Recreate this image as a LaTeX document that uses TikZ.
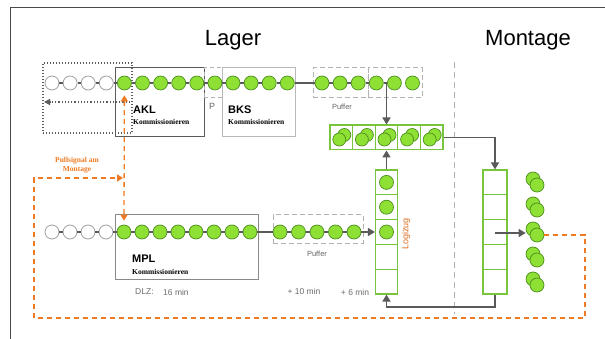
\documentclass[tikz,border=0pt]{standalone}
\usepackage{fontspec}
\setmainfont{Liberation Sans}
\newfontfamily\kommfont{Liberation Serif}
\usetikzlibrary{arrows.meta,calc}
\definecolor{limefill}{HTML}{8EE034}
\definecolor{circedge}{HTML}{4C8F1E}
\definecolor{cellgreen}{HTML}{78C43C}
\definecolor{linegray}{HTML}{5A5A5A}
\definecolor{boxgray}{HTML}{8A8A8A}
\definecolor{pullorange}{HTML}{F07A22}
\definecolor{framegray}{HTML}{4A4A4A}
\begin{document}
\begin{tikzpicture}[x=1pt,y=-1pt,
  gc/.style={circle, draw=circedge, fill=limefill, line width=0.7pt, minimum size=14pt, inner sep=0pt},
  wc/.style={circle, draw=gray!75, fill=white, line width=0.8pt, minimum size=14pt, inner sep=0pt},
  conn/.style={draw=linegray, line width=1.6pt},
  arr/.style={conn, -{Triangle[length=7pt,width=8pt]}},
  cellbox/.style={rectangle, draw=cellgreen, line width=1.2pt, minimum width=22.6pt, minimum height=24.8pt, inner sep=0pt},
  pull/.style={draw=pullorange, line width=1.3pt, dash pattern=on 5pt off 4pt},
  pulltip/.style={-{Triangle[length=6pt,width=7pt]}},
  procbox/.style={rectangle, draw, line width=1pt, inner sep=0pt},
  pufbox/.style={rectangle, draw=gray!60, line width=1pt, dash pattern=on 5pt off 3pt, inner sep=0pt},
  title/.style={font=\fontsize{22}{24}\selectfont, inner sep=0pt},
  boxname/.style={font=\bfseries\fontsize{11}{12}\selectfont, anchor=west, inner sep=0pt},
  komm/.style={font=\kommfont\bfseries\fontsize{7.5}{8}\selectfont, anchor=west, inner sep=0pt},
  small/.style={font=\fontsize{8.5}{10}\selectfont, text=gray!85!black, inner sep=0pt},
  puflabel/.style={font=\fontsize{7.5}{9}\selectfont, text=gray!80!black, inner sep=0pt}
]
\useasboundingbox (0,0) rectangle (605,339);
\fill[white] (0,0) rectangle (605,339);
% slide frame
\draw[framegray, line width=1pt] (10,339) -- (10,8) -- (605,8);

% titles
\node[title] (lager) at (233,40) {Lager};
\node[title] (montage) at (528,40) {Montage};

% divider
\draw[gray!60, line width=1pt, dash pattern=on 6pt off 4pt] (454,62) -- (454,314);

% process boxes
\node[procbox, draw=framegray!90, dotted, line width=1.2pt, minimum width=89pt, minimum height=70pt] (retbox) at (87.5,98) {};
\node[procbox, draw=linegray, minimum width=89pt, minimum height=69pt] (akl) at (159.5,102.5) {};
\node[procbox, draw=gray!60, line width=1pt, dash pattern=on 4pt off 3pt, minimum width=18pt, minimum height=30pt] (pbox) at (213,83) {};
\node[procbox, draw=gray!55, minimum width=73pt, minimum height=69pt] (bks) at (258.5,102.5) {};
\node[procbox, draw=boxgray, minimum width=143pt, minimum height=64pt] (mpl) at (186.5,247) {};
\node[pufbox, minimum width=55pt, minimum height=30pt] (pa) at (340.5,83) {};
\node[pufbox, minimum width=54pt, minimum height=30pt] (pb) at (395,83) {};
\node[pufbox, minimum width=90pt, minimum height=28pt] (pc) at (318,229) {};

% box labels
\node[boxname] (aklt) at (133,110) {AKL};
\node[komm] (aklk) at (133,122) {Kommissionieren};
\node[boxname] (bkst) at (228,110) {BKS};
\node[komm] (bksk) at (228,122) {Kommissionieren};
\node[boxname] (mplt) at (132,259) {MPL};
\node[komm] (mplk) at (132,272) {Kommissionieren};
\node[font=\fontsize{9}{10}\selectfont, text=gray!80!black, inner sep=0pt] (plabel) at (212,106) {P};
\node[puflabel] (pufa) at (342,107) {Puffer};
\node[puflabel] (pufc) at (317,254) {Puffer};
\node[small, anchor=west] (dlz) at (135,292) {DLZ:};
\node[small, anchor=west] (dlzv) at (163,292) {16 min};
\node[small] (p10) at (304,291) {+ 10 min};
\node[small] (p6) at (355,292) {+ 6 min};
\node[text=pullorange!90!black, rotate=90, font=\fontsize{9}{10}\selectfont, inner sep=0pt] (logi) at (406,234) {Logizug};
\node[text=pullorange, align=center, font=\kommfont\bfseries\fontsize{7.5}{8.5}\selectfont, inner sep=0pt] (pulltxt) at (77,165) {Pullsignal am\\Montage};

% top row circles
\foreach \i in {1,...,4} \node[wc] (t\i) at ({52+18.1*(\i-1)},83) {};
\foreach \i in {5,...,14} \node[gc] (t\i) at ({52+18.1*(\i-1)},83) {};
\foreach \i [evaluate=\i as \j using int(\i+1)] in {1,...,13} \draw[conn] (t\i) -- (t\j);
% top puffer
\foreach \i in {1,...,6} \node[gc] (u\i) at ({322+18.1*(\i-1)},83) {};
\draw[conn] (t14) -- (u1);
\foreach \i [evaluate=\i as \j using int(\i+1)] in {1,...,4} \draw[conn] (u\i) -- (u\j);

% MPL row
\foreach \i in {1,...,4} \node[wc] (b\i) at ({52+18*(\i-1)},232) {};
\foreach \i in {5,...,12} \node[gc] (b\i) at ({52+18*(\i-1)},232) {};
\foreach \i [evaluate=\i as \j using int(\i+1)] in {1,...,11} \draw[conn] (b\i) -- (b\j);
\foreach \i in {1,...,5} \node[gc] (q\i) at ({280+18.5*(\i-1)},232) {};
\draw[conn] (b12) -- (q1);
\foreach \i [evaluate=\i as \j using int(\i+1)] in {1,...,4} \draw[conn] (q\i) -- (q\j);

% five-cell row
\foreach \i in {1,...,5} {
  \node[cellbox] (c\i) at ({341.3+22.6*(\i-1)},137.5) {};
  \node[gc, minimum size=13pt] (cb\i) at ($(c\i.center)+(3,-2.5)$) {};
  \node[gc, minimum size=13pt] (cf\i) at ($(c\i.center)+(-2,2)$) {};
}
% Logizug column
\foreach \i in {1,...,5} \node[cellbox, minimum width=22pt] (l\i) at (386.5,{182.4+24.8*(\i-1)}) {};
\foreach \i in {1,...,3} \node[gc] (lc\i) at (l\i.center) {};
% Montage column
\foreach \i in {1,...,5} \node[cellbox, minimum width=24pt] (m\i) at (495,{182.4+24.8*(\i-1)}) {};
% output pairs
\foreach \i in {1,...,5} {
  \node[gc] (pk\i) at (533,{179+25*(\i-1)}) {};
  \node[gc] (pf\i) at (537,{185+25*(\i-1)}) {};
}

% gray flow connectors
\coordinate (j1) at (386.5,83);
\draw[arr] (j1) -- (c3.north);
\coordinate (k1) at (495,137.5);
\draw[arr] (c5.east) -- (k1) -- (m1.north);
\draw[arr] (l1.north) -- (c3.south);
\draw[arr] (q5) -- (l3.west);
\coordinate (k2) at (495,307);
\draw[arr] (m5.south) -- (k2) -| (l5.south);
\coordinate (outA) at (495,233);
\draw[arr] (outA) -- (pk3.west |- outA);
% dotted return arrow
\coordinate (r1) at (130,102);
\coordinate (r2) at (44,102);
\draw[draw=framegray!90, dotted, line width=1.2pt, -{Triangle[length=6pt,width=6pt]}] (r1) -- (r2);

% orange pull signal
\coordinate (o1) at (585,235);
\coordinate (o2) at (585,318);
\coordinate (o3) at (34,318);
\coordinate (o4) at (34,178);
\coordinate (pin) at (123,178);
\draw[pull, pulltip] (pf3.east) -- (o1) -- (o2) -- (o3) -- (o4) -- (pin);
\draw[pull, {Triangle[length=6pt,width=7pt]}-{Triangle[length=6pt,width=7pt]}, shorten <=5pt, shorten >=4pt] (t5.south) -- (b5.north);
\end{tikzpicture}
\end{document}
